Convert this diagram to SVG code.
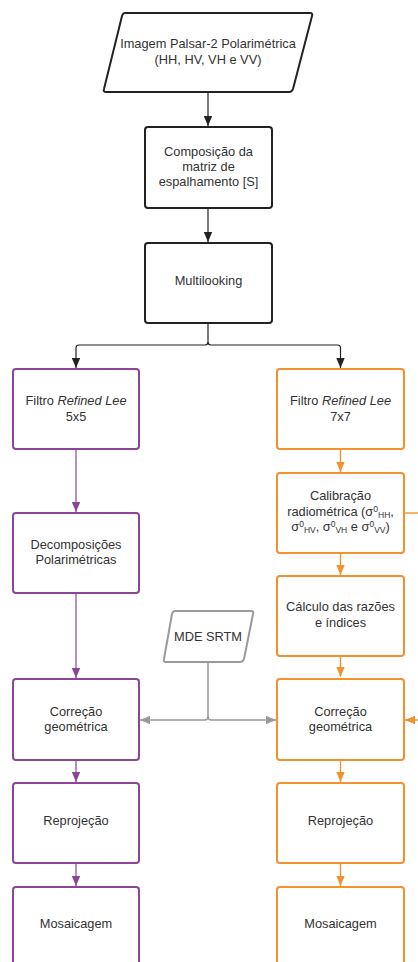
<svg xmlns="http://www.w3.org/2000/svg" width="418" height="962" viewBox="0 0 418 962">
<defs>
<style>
text{font-family:"Liberation Sans",Arial,sans-serif;font-size:12.8px;fill:#333;text-anchor:middle}
.k{fill:#fff;stroke:#222;stroke-width:2}
.p{fill:#fff;stroke:#8b4596;stroke-width:2}
.o{fill:#fff;stroke:#f2922e;stroke-width:2}
.g{fill:#fff;stroke:#9a9a9a;stroke-width:2}
.ck{fill:none;stroke:#222;stroke-width:1.2}
.cp{fill:none;stroke:#8b4596;stroke-width:1.2}
.co{fill:none;stroke:#f2922e;stroke-width:1.4}
.cg{fill:none;stroke:#9a9a9a;stroke-width:1.5}
.s{font-size:8.5px}
</style>
<marker id="ak" markerUnits="userSpaceOnUse" markerWidth="10" markerHeight="10" viewBox="0 0 10 10" refX="10" refY="5" orient="auto"><path d="M0,0.8 L10,5 L0,9.2 Z" fill="#222"/></marker>
<marker id="ap" markerUnits="userSpaceOnUse" markerWidth="10" markerHeight="10" viewBox="0 0 10 10" refX="10" refY="5" orient="auto"><path d="M0,0.8 L10,5 L0,9.2 Z" fill="#8b4596"/></marker>
<marker id="ao" markerUnits="userSpaceOnUse" markerWidth="10" markerHeight="10" viewBox="0 0 10 10" refX="10" refY="5" orient="auto"><path d="M0,0.8 L10,5 L0,9.2 Z" fill="#f2922e"/></marker>
<marker id="ag" markerUnits="userSpaceOnUse" markerWidth="10" markerHeight="10" viewBox="0 0 10 10" refX="10" refY="5" orient="auto"><path d="M0,0.8 L10,5 L0,9.2 Z" fill="#9a9a9a"/></marker>
</defs>
<rect width="418" height="962" fill="#fff"/>
<g id="connectors">
<path class="ck" d="M208,92 V126" marker-end="url(#ak)"/>
<path class="ck" d="M208,208 V242" marker-end="url(#ak)"/>
<path class="ck" d="M208,323 V342 Q208,345 205,345 H79 Q76,345 76,348 V368" marker-end="url(#ak)"/>
<path class="ck" d="M208,342 Q208,345 211,345 H337.5 Q340.5,345 340.5,348 V368" marker-end="url(#ak)"/>
<path class="cp" d="M76,449 V512" marker-end="url(#ap)"/>
<path class="cp" d="M76,593 V678" marker-end="url(#ap)"/>
<path class="cp" d="M76,760 V782" marker-end="url(#ap)"/>
<path class="cp" d="M76,863 V886" marker-end="url(#ap)"/>
<path class="co" d="M340.5,449 V472" marker-end="url(#ao)"/>
<path class="co" d="M340.5,553 V575" marker-end="url(#ao)"/>
<path class="co" d="M340.5,656 V677" marker-end="url(#ao)"/>
<path class="co" d="M340.5,760 V782" marker-end="url(#ao)"/>
<path class="co" d="M340.5,863 V886" marker-end="url(#ao)"/>
<path class="co" d="M404,513 H418"/>
<path class="co" d="M418,720 H405" marker-end="url(#ao)"/>
<path class="cg" d="M208,662 V717 Q208,720 205,720 H140" marker-end="url(#ag)"/>
<path class="cg" d="M208,717 Q208,720 211,720 H276" marker-end="url(#ag)"/>
</g>
<g id="n-imagem">
<path class="k" d="M125,13 H310 Q313,13 312,16 L293,89 Q292,92 289,92 H106 Q103,92 104,89 L122,16 Q123,13 125,13 Z"/>
<text x="208" y="48">Imagem Palsar-2 Polarimétrica</text>
<text x="208" y="64">(HH, HV, VH e VV)</text>
</g>
<g id="n-composicao">
<rect class="k" x="145" y="127" width="127" height="81" rx="3"/>
<text x="208.5" y="156">Composição da</text>
<text x="208.5" y="171">matriz de</text>
<text x="208.5" y="186">espalhamento [S]</text>
</g>
<g id="n-multilooking">
<rect class="k" x="145" y="243" width="127" height="80" rx="3"/>
<text x="208.5" y="285">Multilooking</text>
</g>
<g id="n-filtro5">
<rect class="p" x="13" y="369" width="126" height="80" rx="3"/>
<text x="76" y="405">Filtro <tspan font-style="italic">Refined Lee</tspan></text>
<text x="76" y="421">5x5</text>
</g>
<g id="n-filtro7">
<rect class="o" x="277" y="369" width="127" height="80" rx="3"/>
<text x="340.5" y="405">Filtro <tspan font-style="italic">Refined Lee</tspan></text>
<text x="340.5" y="421">7x7</text>
</g>
<g id="n-decomp">
<rect class="p" x="13" y="513" width="126" height="80" rx="3"/>
<text x="76" y="549">Decomposições</text>
<text x="76" y="564">Polarimétricas</text>
</g>
<g id="n-calib">
<rect class="o" x="277" y="473" width="127" height="80" rx="3"/>
<text x="340.5" y="500">Calibração</text>
<text x="340.5" y="516">radiométrica (σ<tspan class="s" dy="-4">0</tspan><tspan class="s" dy="6">HH</tspan><tspan dy="-2">,</tspan></text>
<text x="340.5" y="531">σ<tspan class="s" dy="-4">0</tspan><tspan class="s" dy="6">HV</tspan><tspan dy="-2">, σ</tspan><tspan class="s" dy="-4">0</tspan><tspan class="s" dy="6">VH</tspan><tspan dy="-2"> e σ</tspan><tspan class="s" dy="-4">0</tspan><tspan class="s" dy="6">VV</tspan><tspan dy="-2">)</tspan></text>
</g>
<g id="n-calculo">
<rect class="o" x="277" y="576" width="127" height="80" rx="3"/>
<text x="340.5" y="611">Cálculo das razões</text>
<text x="340.5" y="627">e índices</text>
</g>
<g id="n-mde">
<path class="g" d="M175,611 H251 Q254,611 253,614 L244,659 Q243,662 240,662 H166 Q163,662 164,659 L172,614 Q173,611 175,611 Z"/>
<text x="208" y="641">MDE SRTM</text>
</g>
<g id="n-correcao-p">
<rect class="p" x="13" y="679" width="126" height="81" rx="3"/>
<text x="76" y="716">Correção</text>
<text x="76" y="731">geométrica</text>
</g>
<g id="n-correcao-o">
<rect class="o" x="277" y="679" width="127" height="81" rx="3"/>
<text x="340.5" y="716">Correção</text>
<text x="340.5" y="731">geométrica</text>
</g>
<g id="n-reproj-p">
<rect class="p" x="13" y="783" width="126" height="80" rx="3"/>
<text x="76" y="825">Reprojeção</text>
</g>
<g id="n-reproj-o">
<rect class="o" x="277" y="783" width="127" height="80" rx="3"/>
<text x="340.5" y="825">Reprojeção</text>
</g>
<g id="n-mosaic-p">
<rect class="p" x="13" y="887" width="126" height="80" rx="3"/>
<text x="76" y="928">Mosaicagem</text>
</g>
<g id="n-mosaic-o">
<rect class="o" x="277" y="887" width="127" height="80" rx="3"/>
<text x="340.5" y="928">Mosaicagem</text>
</g>
</svg>
